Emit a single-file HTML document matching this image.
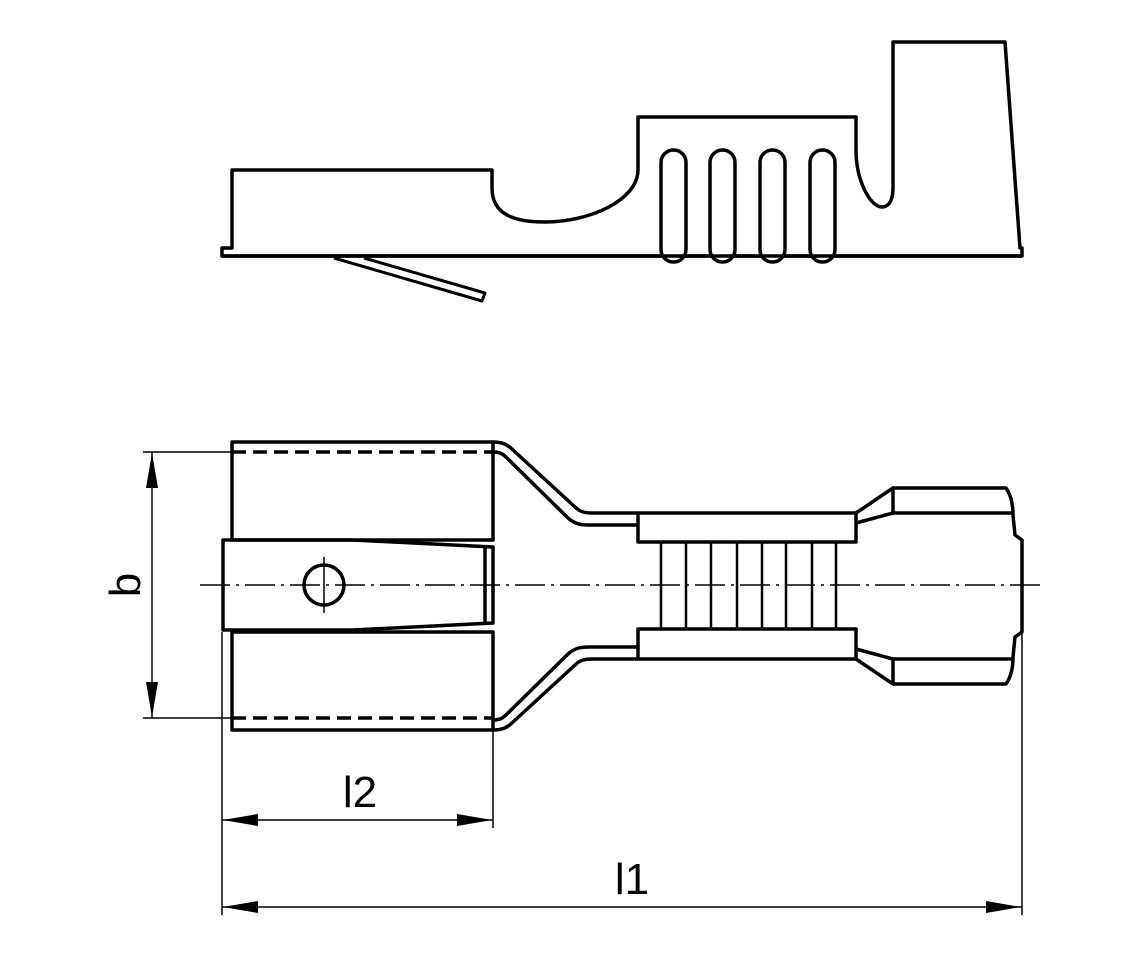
<!DOCTYPE html>
<html><head><meta charset="utf-8"><style>
html,body{margin:0;padding:0;background:#fff;}
svg{display:block;}
text{font-family:"Liberation Sans",sans-serif;fill:#000;}
</style></head><body>
<svg width="1148" height="972" viewBox="0 0 1148 972" xmlns="http://www.w3.org/2000/svg">
<g fill="none" stroke="#000" stroke-width="3.5" stroke-linejoin="round">
<!-- TOP VIEW -->
<path d="M222,256 L222,248 L232,248 L232,170 L492,170 L492,188 C492,215 515,222 545,222 C590,222 638,200 638,170 L638,117 L856,117 L856,150 C856,180 870,207 882,207 C890,207 893,198 893,188 L893,42 L1005,42 L1020,248 L1022,248 L1022,256 Z"/>
<g fill="#fff">
<rect x="661" y="150" width="25" height="112" rx="12.5"/>
<rect x="710" y="150" width="25" height="112" rx="12.5"/>
<rect x="760" y="150" width="25" height="112" rx="12.5"/>
<rect x="810" y="150" width="25" height="112" rx="12.5"/>
</g>
<line x1="222" y1="256" x2="1022" y2="256"/>
<path d="M334,258 L482,301 L485,293 L364,258" stroke-width="3"/>

<!-- BOTTOM VIEW -->
<rect x="232" y="442" width="261" height="98"/>
<rect x="232" y="632" width="261" height="98"/>
<path d="M223,540 L353,540 L493,547 L493,623 L353,630 L223,630 Z"/>
<line x1="485" y1="548" x2="485" y2="623"/>
<circle cx="324" cy="585" r="20"/>
<line x1="232" y1="452" x2="493" y2="452" stroke-dasharray="14,7"/>
<line x1="232" y1="718" x2="493" y2="718" stroke-dasharray="14,7"/>
<!-- neck -->
<path d="M493,442 C503,442 508,445 513,450 L575,507 C580,512 585,513 592,513 L638,513"/>
<path d="M493,452 C500,452 503,454 507,458 L568,518 C575,524 580,525 590,525 L638,525"/>
<path d="M493,730 C503,730 508,727 513,722 L575,665 C580,660 585,659 592,659 L638,659"/>
<path d="M493,720 C500,720 503,718 507,714 L568,654 C575,648 580,647 590,647 L638,647"/>
<!-- barrel -->
<rect x="638" y="513" width="218" height="29"/>
<rect x="638" y="629" width="218" height="30"/>
<g stroke-width="2.5">
<line x1="661" y1="542" x2="661" y2="629"/><line x1="686" y1="542" x2="686" y2="629"/>
<line x1="711" y1="542" x2="711" y2="629"/><line x1="737" y1="542" x2="737" y2="629"/>
<line x1="762" y1="542" x2="762" y2="629"/><line x1="786" y1="542" x2="786" y2="629"/>
<line x1="812" y1="542" x2="812" y2="629"/><line x1="836" y1="542" x2="836" y2="629"/>
</g>
<!-- right end -->
<path d="M856,513 L893,488 L893,513 L856,523"/>
<path d="M856,659 L893,684 L893,659 L856,649"/>
<path d="M893,488 L1006,488 C1011,495 1013,505 1013,515 L1015,535 L1022,540 L1022,632 L1015,637 L1013,657 C1013,667 1011,677 1006,684 L893,684"/>
<line x1="893" y1="513" x2="1012" y2="513"/>
<line x1="893" y1="659" x2="1012" y2="659"/>
</g>
<!-- centre line -->
<g stroke="#000" stroke-width="1.5" fill="none">
<line x1="200" y1="585" x2="1045" y2="585" stroke-dasharray="30,6,3,6"/>
<line x1="324" y1="557" x2="324" y2="613"/>
<!-- dimension lines -->
<line x1="143" y1="452" x2="232" y2="452"/>
<line x1="143" y1="718" x2="232" y2="718"/>
<line x1="152" y1="452" x2="152" y2="718"/>
<line x1="222" y1="632" x2="222" y2="915"/>
<line x1="493" y1="730" x2="493" y2="828"/>
<line x1="1022" y1="632" x2="1022" y2="915"/>
<line x1="222" y1="820" x2="493" y2="820"/>
<line x1="222" y1="907" x2="1022" y2="907"/>
</g>
<g fill="#000">
<path d="M152,453 L146,488 L158,488 Z"/>
<path d="M152,717 L146,682 L158,682 Z"/>
<path d="M223,820 L258,814 L258,826 Z"/>
<path d="M492,820 L457,814 L457,826 Z"/>
<path d="M223,907 L258,901 L258,913 Z"/>
<path d="M1021,907 L986,901 L986,913 Z"/>
</g>
<text x="140" y="585" font-size="44" text-anchor="middle" transform="rotate(-90 140 585)">b</text>
<text x="360" y="807" font-size="44" text-anchor="middle">l2</text>
<text x="632" y="894" font-size="44" text-anchor="middle">l1</text>
</svg>
</body></html>
